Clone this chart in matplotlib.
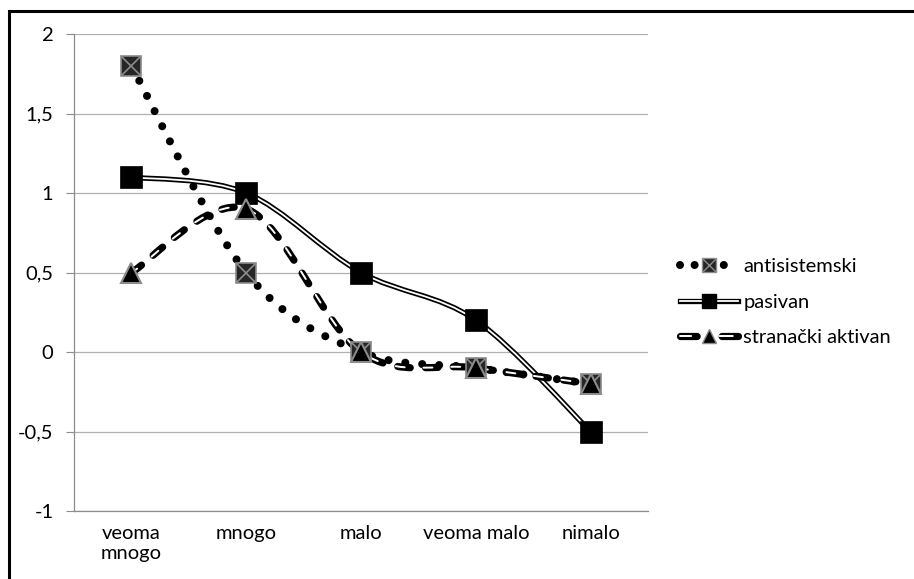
import numpy as np
import matplotlib
matplotlib.use('Agg')
import matplotlib.pyplot as plt
from matplotlib.path import Path
from matplotlib.patches import PathPatch, Rectangle
from matplotlib.lines import Line2D

categories = ['veoma\nmnogo', 'mnogo', 'malo', 'veoma malo', 'nimalo']
antisistemski = [1.8, 0.5, 0.0, -0.1, -0.2]
pasivan = [1.1, 1.0, 0.5, 0.2, -0.5]
stranacki = [0.5, 0.9, 0.0, -0.1, -0.2]
series_names = ['antisistemski', 'pasivan', 'stranački aktivan']
y_ticks = [-1, -0.5, 0, 0.5, 1, 1.5, 2]
y_tick_labels = ['-1', '-0,5', '0', '0,5', '1', '1,5', '2']

plt.rcParams['font.family'] = ['Lato', 'DejaVu Sans']
plt.rcParams['lines.scale_dashes'] = False


def smooth_path(xs, ys):
    # smoothed line like the spreadsheet one (catmull-rom -> bezier)
    pts = np.column_stack([xs, ys]).astype(float)
    n = len(pts)
    verts = [pts[0]]
    codes = [Path.MOVETO]
    for i in range(n - 1):
        p0 = pts[i - 1] if i > 0 else pts[i]
        p1 = pts[i]
        p2 = pts[i + 1]
        p3 = pts[i + 2] if i + 2 < n else pts[i + 1]
        verts += [p1 + (p2 - p0) / 6, p2 - (p3 - p1) / 6, p2]
        codes += [Path.CURVE4] * 3
    return Path(verts, codes)


fig = plt.figure(figsize=(9.14, 5.79), dpi=100)
ax = fig.add_axes([74 / 914, 1 - 511 / 579, (648 - 74) / 914, (511 - 34) / 579])

x = np.arange(len(categories))

# lines
dots = (0, (0.01, 12.2))
dash = (0, (9.0, 11.0))
dash_in = (1.5, (6.5, 13.5))
p = smooth_path(x, antisistemski)
ax.add_patch(PathPatch(p, fill=False, ec='black', lw=5.8, ls=dots, capstyle='round', zorder=3))

p = smooth_path(x, pasivan)
ax.add_patch(PathPatch(p, fill=False, ec='black', lw=3.8, zorder=4, capstyle='butt'))
ax.add_patch(PathPatch(p, fill=False, ec='white', lw=1.3, zorder=4.1, capstyle='butt'))

p = smooth_path(x, stranacki)
ax.add_patch(PathPatch(p, fill=False, ec='black', lw=5.2, ls=dash, capstyle='round', zorder=5))
ax.add_patch(PathPatch(p, fill=False, ec='white', lw=1.4, ls=dash_in, capstyle='round', zorder=5.1))

# markers
ax.plot(x, antisistemski, ls='none', marker='s', ms=15, mfc='#262626', mec='#8c8c8c', mew=1.2, zorder=6)
ax.plot(x, antisistemski, ls='none', marker='x', ms=15, mec='#8c8c8c', mew=1.2, zorder=6.1)
ax.plot(x, pasivan, ls='none', marker='s', ms=16, mfc='black', mec='black', mew=0.5, zorder=6.2)
ax.plot(x, stranacki, ls='none', marker='^', ms=15, mfc='black', mec='#8c8c8c', mew=1.5, zorder=6.3)

ax.set_xlim(-0.5, 4.5)
ax.set_ylim(-1, 2)
ax.set_yticks(y_ticks)
ax.set_yticklabels(y_tick_labels)
ax.set_xticks(x)
ax.set_xticklabels(categories)
ax.tick_params(axis='y', length=5.8, width=0.8, color='#8c8c8c', pad=9, labelsize=14.5)
ax.tick_params(axis='x', length=0, pad=10, labelsize=14.5)
ax.grid(axis='y', color='#b0b0b0', lw=0.9, zorder=0)
ax.set_axisbelow(True)
for s in ['top', 'right']:
    ax.spines[s].set_visible(False)
for s in ['left', 'bottom']:
    ax.spines[s].set_color('#8c8c8c')
    ax.spines[s].set_linewidth(0.9)

# legend
h1 = (Line2D([], [], color='black', lw=5.8, ls=(0, (0.01, 10.5)), dash_capstyle='round'),
      Line2D([], [], ls='none', marker='s', ms=10, mfc='#262626', mec='#8c8c8c', mew=1),
      Line2D([], [], ls='none', marker='x', ms=10, mec='#8c8c8c', mew=1))
h2 = (Line2D([], [], color='black', lw=3.8),
      Line2D([], [], color='white', lw=1.3),
      Line2D([], [], ls='none', marker='s', ms=10, mfc='black', mec='black'))
h3 = (Line2D([], [], color='black', lw=5.2, ls=(0, (12, 18)), dash_capstyle='round'),
      Line2D([], [], color='white', lw=1.4, ls=(1.5, (9.5, 20.5)), dash_capstyle='round'),
      Line2D([], [], ls='none', marker='^', ms=10, mfc='black', mec='#8c8c8c', mew=1))
fig.legend([h1, h2, h3], series_names, loc='center left', bbox_to_anchor=(680 / 914, 1 - 302 / 579),
           frameon=False, fontsize=14.5, handlelength=2.9, handletextpad=0.25, labelspacing=0.9,
           borderpad=0, borderaxespad=0)

# black frame around the chart (cut at right and bottom)
fig.add_artist(Rectangle((8.7 / 914, -0.1), 1.2, 1.1 - 11 / 579, transform=fig.transFigure,
                         fill=False, ec='black', lw=2.2, clip_on=False))

fig.savefig('out.png', dpi=100)
